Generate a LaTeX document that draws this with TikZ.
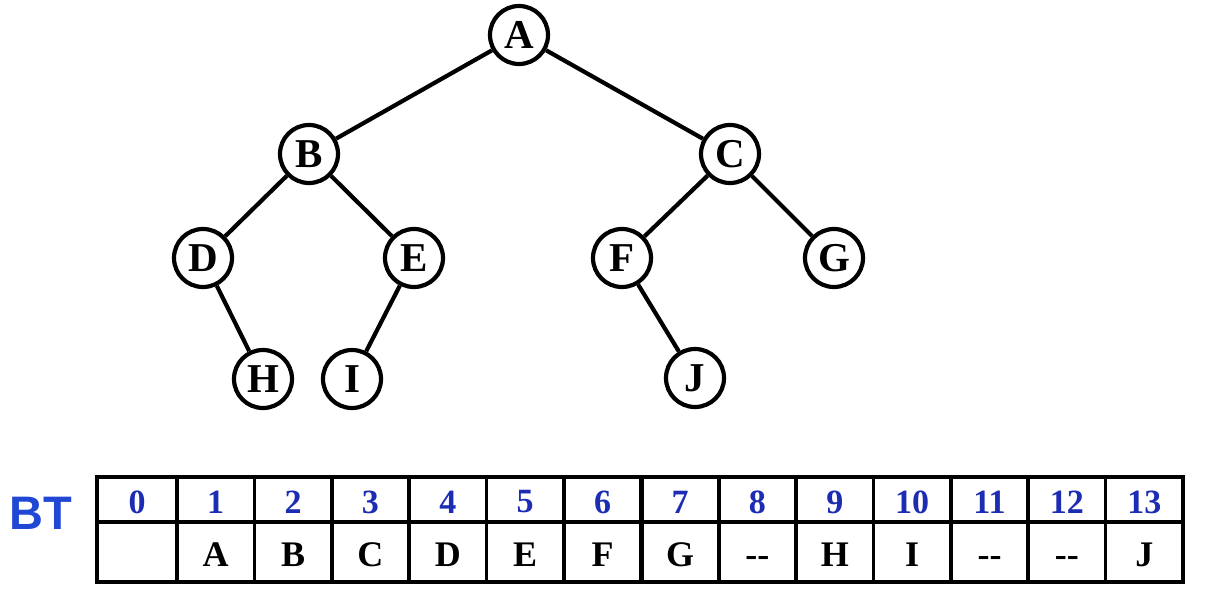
\documentclass[tikz,border=0pt]{standalone}
\usepackage{fontspec}
\setmainfont{Liberation Serif}
\newfontfamily\btsans{Liberation Sans}
\definecolor{idxblue}{RGB}{28,45,180}
\definecolor{btblue}{RGB}{32,72,212}
\begin{document}
\begin{tikzpicture}[x=1pt,y=-1pt,
  tnode/.style={circle,draw,line width=4.2pt,minimum size=58pt,inner sep=0pt,
     font=\fontsize{41}{43}\selectfont\bfseries},
  tedge/.style={line width=4.2pt},
  idx/.style={font=\fontsize{34}{36}\selectfont\bfseries,text=idxblue,inner sep=0pt},
  val/.style={font=\fontsize{36}{38}\selectfont\bfseries,inner sep=0pt},
  gridline/.style={line width=3.6pt},
  outer/.style={line width=4.8pt}]
\useasboundingbox (0,0) rectangle (1212,592);
\fill[white] (0,0) rectangle (1212,592);
% tree nodes
\node[tnode] (A) at (519,35) {A};
\node[tnode] (B) at (309,154) {B};
\node[tnode] (C) at (730,154) {C};
\node[tnode] (D) at (203,258) {D};
\node[tnode] (E) at (414,258) {E};
\node[tnode] (F) at (622,258) {F};
\node[tnode] (G) at (834,258) {G};
\node[tnode] (H) at (263,379) {H};
\node[tnode] (I) at (352,379) {I};
\node[tnode] (J) at (695,378) {J};
\draw[tedge] (A) -- (B);
\draw[tedge] (A) -- (C);
\draw[tedge] (B) -- (D);
\draw[tedge] (B) -- (E);
\draw[tedge] (C) -- (F);
\draw[tedge] (C) -- (G);
\draw[tedge] (D) -- (H);
\draw[tedge] (E) -- (I);
\draw[tedge] (F) -- (J);
% label
\node[font=\btsans\fontsize{47}{49}\selectfont\bfseries,text=btblue,inner sep=0pt] (BT) at (41,513) {BT};
% table grid
\draw[gridline] (97,522) -- (1183,522);
\foreach \i in {1,...,13} {
  \pgfmathsetmacro{\xx}{177+(\i-1)*77.385}
  \draw[gridline] (\xx,477) -- (\xx,583);
}
\draw[line width=5pt] (641.3,477) -- (641.3,583);
\draw[outer] (97,477) rectangle (1183,582);
% header indices
\node[idx] (h0) at (137,502) {0};
\foreach \i in {1,...,13} {
  \pgfmathsetmacro{\xc}{177+(\i-1)*77.385+38.69}
  \node[idx] (h\i) at (\xc,502) {\i};
}
% values
\foreach \i/\v in {1/A,2/B,3/C,4/D,5/E,6/F,7/G,8/-{}-,9/H,10/I,11/-{}-,12/-{}-,13/J} {
  \pgfmathsetmacro{\xc}{177+(\i-1)*77.385+38.69}
  \node[val,anchor=base] (d\i) at (\xc,566) {\v};
}
\end{tikzpicture}
\end{document}
